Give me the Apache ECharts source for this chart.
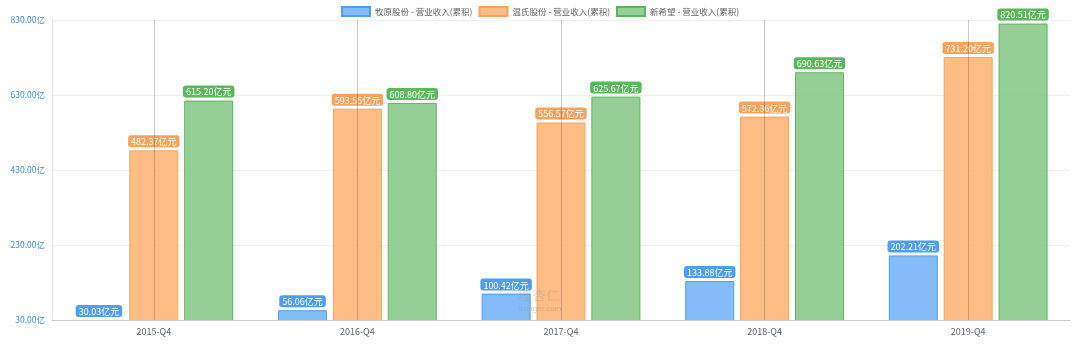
<!DOCTYPE html>
<html><head><meta charset="utf-8">
<script src="https://cdn.jsdelivr.net/npm/echarts@6/dist/echarts.min.js"></script>
<style>html,body{margin:0;padding:0;background:#fff}#c{width:1080px;height:354px}</style>
</head><body><div id="c"></div>
<script>
const categories = ['2015-Q4','2016-Q4','2017-Q4','2018-Q4','2019-Q4'];
const seriesNames = ['牧原股份 - 营业收入(累积)','温氏股份 - 营业收入(累积)','新希望 - 营业收入(累积)'];
const muyuan = [30.03, 56.06, 100.42, 133.88, 202.21];
const wens = [482.37, 593.55, 556.57, 572.36, 731.20];
const xinxiwang = [615.20, 608.80, 625.67, 690.63, 820.51];
const yMin = 30, yMax = 830, yInterval = 200;

const fills = ['rgba(115,179,248,0.88)','rgba(254,178,112,0.85)','rgba(130,199,130,0.85)'];
const borders = ['#4d9ef5','#f8a45e','#5cb85c'];
const labelBg = ['#4d9ef5','#f8a45e','#5cb85c'];
const datas = [muyuan, wens, xinxiwang];

const chart = echarts.init(document.getElementById('c'));
chart.setOption({
  animation:false,
  textStyle:{fontFamily:'"Noto Sans CJK SC", "Liberation Sans", sans-serif'},
  legend:{top:1,left:'center',icon:'rect',itemWidth:28,itemHeight:9,itemGap:6,
    textStyle:{fontSize:8.5,color:'#666'},data:seriesNames},
  grid:{left:52,right:10,top:20,bottom:34},
  xAxis:{type:'category',data:categories,boundaryGap:true,z:10,
    axisLine:{lineStyle:{color:'#ccc'}},
    axisTick:{show:false},
    axisLabel:{color:'#666',fontSize:9,margin:7},
    splitLine:{show:true,alignWithLabel:true,lineStyle:{color:'rgba(0,0,0,0.2)',width:1}}},
  yAxis:{type:'value',min:yMin,max:yMax,interval:yInterval,
    axisLine:{show:true,lineStyle:{color:'#e6e6e6'}},
    axisTick:{show:false},
    axisLabel:{color:'#3d8fe0',fontSize:8.5,margin:7,formatter:v=>v.toFixed(2)+'亿'},
    splitLine:{lineStyle:{color:'#f0f0f0'}}},
  graphic:[{type:'rect',z:5,shape:{x:53,y:320.5,width:1027,height:40},style:{fill:'#fff'}},
           {type:'text',left:518,top:289,z:100,style:{text:'理杏仁',fontSize:14,fill:'rgba(150,150,150,0.35)'}},
           {type:'text',left:519,top:305,z:100,style:{text:'lixinger.com',fontSize:8,fill:'rgba(150,150,150,0.45)'}}],
  series: datas.map((d,i)=>({
    name:seriesNames[i],type:'bar',data:d,barWidth:49,barGap:'12%',clip:false,
    itemStyle:{color:fills[i],borderColor:borders[i],borderWidth:1},
    label:{show:true,position:'top',distance:3,formatter:p=>p.value.toFixed(2)+'亿元',
      color:'#fff',fontSize:9,backgroundColor:labelBg[i],borderRadius:3,padding:[2,3,1,3]}
  }))
});
</script></body></html>
